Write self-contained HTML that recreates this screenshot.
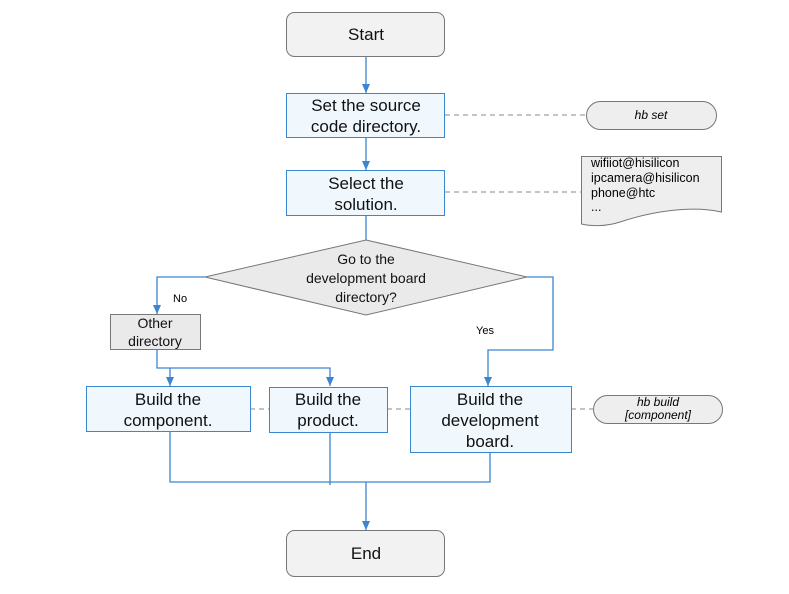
<!DOCTYPE html>
<html><head><meta charset="utf-8"><style>body{margin:0;background:#fff}svg{display:block}text{font-family:"Liberation Sans",Arial,sans-serif}</style></head><body>
<svg width="789" height="594" viewBox="0 0 789 594" xmlns="http://www.w3.org/2000/svg">
<defs><marker id="a" markerWidth="10" markerHeight="10" refX="9" refY="4" orient="auto" markerUnits="userSpaceOnUse"><path d="M0,0 L9,4 L0,8 z" fill="#3a86d0"/></marker></defs>
<g fill="none" stroke="#3a86d0" stroke-width="1.3">
<line x1="366" y1="56" x2="366" y2="93" marker-end="url(#a)"/>
<line x1="366" y1="137" x2="366" y2="170" marker-end="url(#a)"/>
<line x1="366" y1="215" x2="366" y2="240"/>
<polyline points="205,277 157,277 157,314" marker-end="url(#a)"/>
<polyline points="157,349 157,368 330,368 330,386" marker-end="url(#a)"/>
<line x1="170" y1="368" x2="170" y2="386" marker-end="url(#a)"/>
<polyline points="527,277 553,277 553,350 488,350 488,386" marker-end="url(#a)"/>
<polyline points="170,431 170,482 490,482 490,452"/>
<line x1="330" y1="432" x2="330" y2="485"/>
<line x1="366" y1="482" x2="366" y2="530" marker-end="url(#a)"/>
</g>
<g stroke="#888" stroke-dasharray="5,4" stroke-width="1">
<line x1="445" y1="115" x2="586" y2="115"/><line x1="445" y1="192" x2="581" y2="192"/>
<line x1="250" y1="409" x2="269" y2="409"/><line x1="387" y1="409" x2="410" y2="409"/><line x1="571" y1="409" x2="593" y2="409"/>
</g>
<rect x="286.5" y="12.5" width="158" height="44" rx="8" fill="#f2f2f2" stroke="#777"/>
<rect x="286.5" y="530.5" width="158" height="46" rx="8" fill="#f2f2f2" stroke="#777"/>
<g fill="#f0f8fe" stroke="#3a86d0">
<rect x="286.5" y="93.5" width="158" height="44"/><rect x="286.5" y="170.5" width="158" height="45"/>
<rect x="86.5" y="386.5" width="164" height="45"/><rect x="269.5" y="387.5" width="118" height="45"/><rect x="410.5" y="386.5" width="161" height="66"/>
</g>
<polygon points="366,240 527,277 366,315 205,277" fill="#eaeaea" stroke="#777"/>
<rect x="110.5" y="314.5" width="90" height="35" fill="#eaeaea" stroke="#777"/>
<rect x="586.5" y="101.5" width="130" height="28" rx="14" fill="#eee" stroke="#777"/>
<rect x="593.5" y="395.5" width="129" height="28" rx="14" fill="#eee" stroke="#777"/>
<path d="M581.5,156.5 H721.5 V212 C690,205 650,212 620,222 C605,227 590,226 581.5,224 Z" fill="#eee" stroke="#777"/>
<g font-size="17" text-anchor="middle" fill="#111">
<text x="366" y="40">Start</text><text x="366" y="559">End</text>
<text x="366" y="111">Set the source</text><text x="366" y="132">code directory.</text>
<text x="366" y="189">Select the</text><text x="366" y="210">solution.</text>
<text x="168" y="405">Build the</text><text x="168" y="426">component.</text>
<text x="328" y="405">Build the</text><text x="328" y="426">product.</text>
<text x="490" y="405">Build the</text><text x="490" y="426">development</text><text x="490" y="447">board.</text>
</g>
<g font-size="14" text-anchor="middle" fill="#111">
<text x="366" y="264">Go to the</text><text x="366" y="283">development board</text><text x="366" y="302">directory?</text>
<text x="155" y="328">Other</text><text x="155" y="346">directory</text>
</g>
<text x="173" y="302" font-size="11">No</text><text x="476" y="334" font-size="11">Yes</text>
<g font-size="12" font-style="italic" text-anchor="middle"><text x="651" y="119">hb set</text><text x="658" y="406">hb build</text><text x="658" y="419">[component]</text></g>
<g font-size="12.5"><text x="591" y="167">wifiiot@hisilicon</text><text x="591" y="182">ipcamera@hisilicon</text><text x="591" y="197">phone@htc</text><text x="591" y="211">...</text></g>
</svg></body></html>
